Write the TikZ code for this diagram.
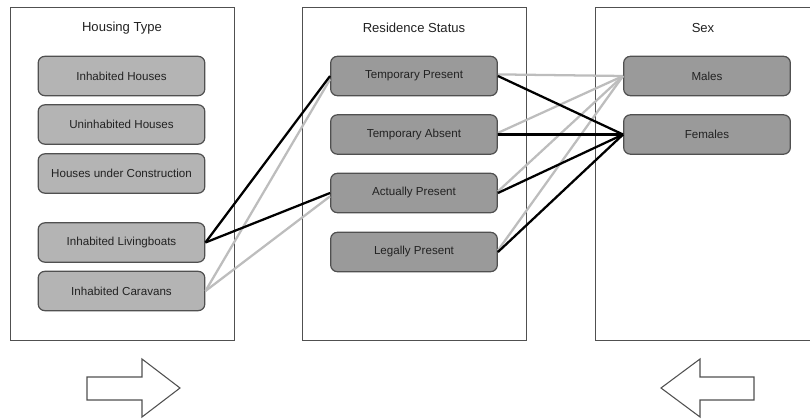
\documentclass[tikz,border=0pt]{standalone}
\usepackage{fontspec}
\setmainfont{Liberation Sans}
\definecolor{boxlight}{HTML}{B4B4B4}
\definecolor{boxdark}{HTML}{9A9A9A}
\definecolor{linegray}{HTML}{BDBDBD}
\definecolor{edgegray}{HTML}{505050}
\definecolor{txt}{HTML}{222222}
\begin{document}
\begin{tikzpicture}[x=0.75pt,y=-0.75pt,
  panel/.style={draw=edgegray, line width=0.7pt, fill=white},
  lbox/.style={draw=edgegray, line width=0.9pt, rounded corners=5pt, fill=boxlight,
    minimum width=125pt, minimum height=29.5pt, inner sep=0pt, text=txt,
    font=\fontsize{8.7}{10}\selectfont},
  dbox/.style={lbox, fill=boxdark},
  ttl/.style={font=\fontsize{9.8}{12}\selectfont, inner sep=0pt, text=txt},
  blk/.style={line width=1.7pt, draw=black},
  gry/.style={line width=1.7pt, draw=linegray},
  bigarrow/.style={draw=edgegray, line width=0.8pt, fill=white, line join=miter}]
\useasboundingbox (0,0) rectangle (810,420);
\begin{scope}
\clip (0,0) rectangle (810,420);
% panels
\draw[panel] (10,7) rectangle (234,340);
\draw[panel] (302,7) rectangle (526,340);
\draw[panel] (595,7) rectangle (840,340);
\end{scope}
% titles
\node[ttl] (t1) at (122,28) {Housing Type};
\node[ttl] (t2) at (414,28) {Residence Status};
\node[ttl] (t3) at (703,28) {Sex};
% housing type
\node[lbox] (ih) at (121.5,76) {Inhabited Houses};
\node[lbox] (uh) at (121.5,124.5) {Uninhabited Houses};
\node[lbox] (hc) at (121.5,173.5) {Houses under Construction};
\node[lbox] (lb) at (121.5,242.5) {Inhabited Livingboats};
\node[lbox] (cv) at (121.5,291) {Inhabited Caravans};
% residence status
\node[dbox] (tp) at (414,76) {Temporary Present};
\node[dbox] (ta) at (414,134.5) {Temporary Absent};
\node[dbox] (ap) at (414,193) {Actually Present};
\node[dbox] (lp) at (414,252) {Legally Present};
% sex
\node[dbox] (ma) at (707,76) {Males};
\node[dbox] (fe) at (707,134.5) {Females};
% connectors (gray below black)
\draw[gry] (cv.east) -- ([yshift=-2.5pt]tp.west);
\draw[gry] (cv.east) -- ([yshift=-2.5pt]ap.west);
\draw[blk] (lb.east) -- (tp.west);
\draw[blk] (lb.east) -- (ap.west);
\foreach \n in {tp,ta,ap,lp}{
  \draw[gry] ([yshift=1.2pt]\n.east) -- (ma.west);
}
\foreach \n in {tp,ta,ap,lp}{
  \draw[blk] (\n.east) -- (fe.west);
}
% big arrows
\draw[bigarrow] (87,377) -- (142,377) -- (142,359) -- (180,388) -- (142,417) -- (142,400) -- (87,400) -- cycle;
\draw[bigarrow] (754,377) -- (700,377) -- (700,359) -- (661,388) -- (700,417) -- (700,400) -- (754,400) -- cycle;
\end{tikzpicture}
\end{document}
